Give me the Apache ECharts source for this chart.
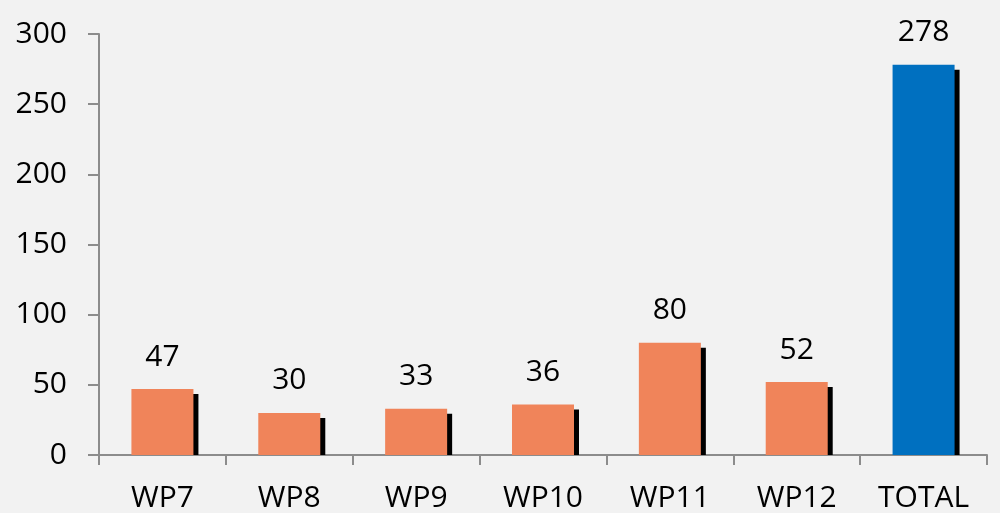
<!DOCTYPE html>
<html>
<head>
<meta charset="utf-8">
<script src="https://cdn.jsdelivr.net/npm/echarts@6/dist/echarts.min.js"></script>
<style>
html,body{margin:0;padding:0;background:#f2f2f2;}
#main{width:1000px;height:513px;}
</style>
</head>
<body>
<div id="main"></div>
<script>
var categories = ['WP7', 'WP8', 'WP9', 'WP10', 'WP11', 'WP12', 'TOTAL'];
var values = [47, 30, 33, 36, 80, 52, 278];
var yTicks = [0, 50, 100, 150, 200, 250, 300];

var barW = 62;
var fontName = 'Open Sans';

var chart = echarts.init(document.getElementById('main'));

var option = {
    backgroundColor: '#f2f2f2',
    animation: false,
    grid: {
        left: 99,
        right: 13,
        top: 34,
        bottom: 56
    },
    xAxis: {
        type: 'category',
        data: categories,
        axisLine: { lineStyle: { color: '#8c8c8c', width: 2 } },
        axisTick: { show: true, length: 10, lineStyle: { color: '#8c8c8c', width: 2 } },
        axisLabel: { color: '#000', fontSize: 30, fontFamily: fontName, margin: 28 }
    },
    yAxis: {
        type: 'value',
        min: yTicks[0],
        max: yTicks[yTicks.length - 1],
        interval: 50,
        axisLine: { show: true, lineStyle: { color: '#8c8c8c', width: 2 } },
        axisTick: { show: true, length: 11, lineStyle: { color: '#8c8c8c', width: 2 } },
        splitLine: { show: false },
        axisLabel: { color: '#000', fontSize: 30, fontFamily: fontName, margin: 32 }
    },
    series: [
        {
            // drop shadow behind each bar
            type: 'custom',
            z: 2,
            data: values.map(function (v, i) { return [i, v]; }),
            renderItem: function (params, api) {
                var top = api.coord([api.value(0), api.value(1)]);
                var base = api.coord([api.value(0), 0]);
                return {
                    type: 'rect',
                    shape: {
                        x: top[0] - barW / 2 + 5,
                        y: top[1] + 5,
                        width: barW,
                        height: base[1] - top[1] - 5
                    },
                    style: { fill: '#000' }
                };
            }
        },
        {
            type: 'bar',
            z: 3,
            barWidth: barW,
            data: values,
            itemStyle: {
                color: function (p) {
                    return p.dataIndex === values.length - 1 ? '#0070c0' : '#f0845a';
                }
            },
            label: {
                show: true,
                position: 'top',
                distance: 17,
                color: '#000',
                fontSize: 30,
                fontFamily: fontName
            }
        }
    ]
};

chart.setOption(option);
</script>
</body>
</html>
